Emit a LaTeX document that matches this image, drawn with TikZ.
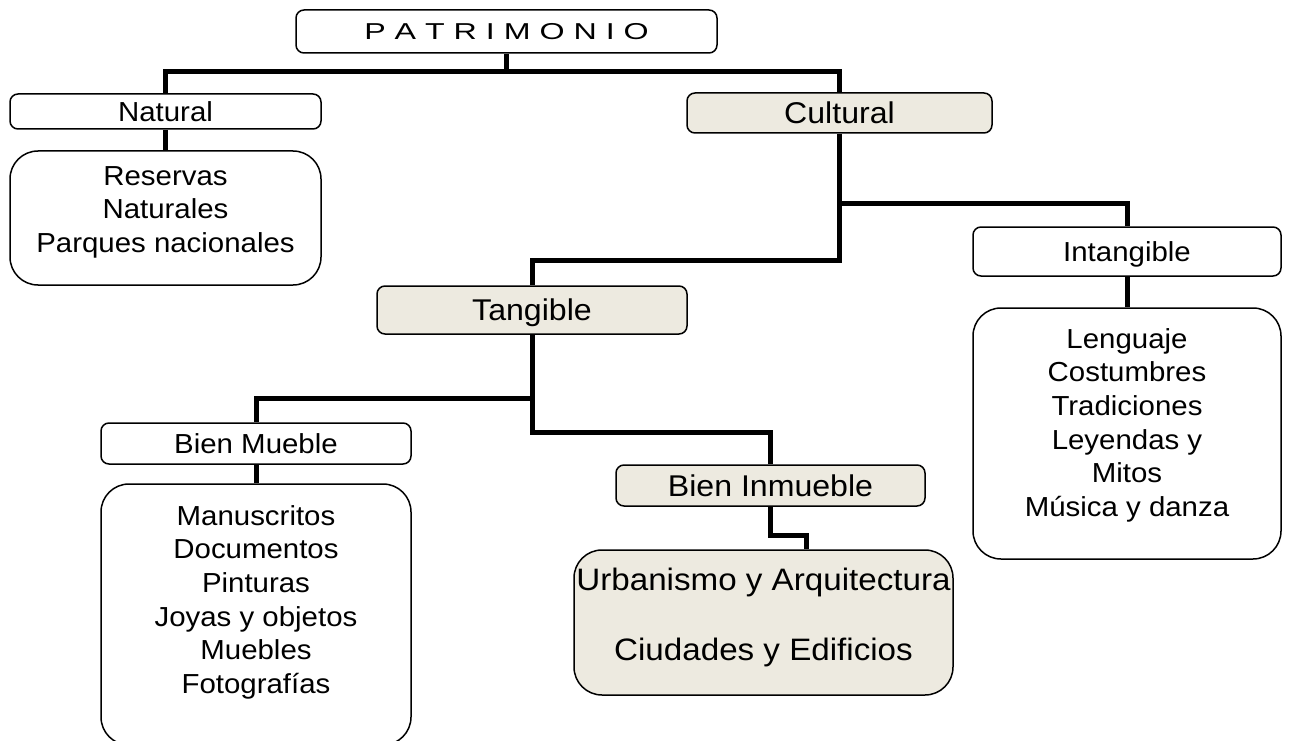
\documentclass[tikz,border=0pt]{standalone}
\usepackage{fontspec}
\setmainfont{Liberation Sans}[FakeStretch=1.07]
\newfontfamily\patfont{Liberation Sans}[FakeStretch=1.4]
\definecolor{beige}{RGB}{237,234,224}
\begin{document}
\begin{tikzpicture}[x=1pt,y=-1pt,
  box/.style={draw=black, line width=1.5pt, rounded corners=8pt, inner sep=0pt, fill=white},
  listbox/.style={box, rounded corners=28pt},
  shaded/.style={fill=beige},
  smfont/.style={font=\fontsize{27.5}{33.7}\selectfont},
  lgfont/.style={font=\fontsize{30}{35}\selectfont},
  urbfont/.style={font=\fontsize{31}{35}\selectfont},
  smsingle/.style={smfont, text height=19.7pt, text depth=0pt},
  lgsingle/.style={lgfont, text height=21.5pt, text depth=0pt},
  conn/.style={line width=5pt, line join=miter}]
\useasboundingbox (0,0) rectangle (1291,741);

% boxes
\node[box, minimum width=421pt, minimum height=43pt, text height=16.5pt, text depth=0pt,
      font=\patfont\fontsize{23}{27}\selectfont] (pat) at (506.5,31.5) {P A T R I M O N I O};
\node[box, smsingle, minimum width=311pt, minimum height=35pt] (nat) at (165.5,111.5) {Natural};
\node[box, shaded, lgsingle, minimum width=305pt, minimum height=40pt] (cul) at (839.5,113) {Cultural};
\node[box, smsingle, minimum width=308pt, minimum height=49pt] (int) at (1127,251.5) {Intangible};
\node[box, shaded, lgsingle, minimum width=310pt, minimum height=48pt] (tan) at (532,310) {Tangible};
\node[box, smsingle, minimum width=310pt, minimum height=41pt] (mue) at (256,443.5) {Bien Mueble};
\node[box, shaded, lgsingle, minimum width=309pt, minimum height=41pt] (inm) at (770.5,485.5) {Bien Inmueble};

\node[listbox, smfont, minimum width=311pt, minimum height=134pt] (natl) at (165.5,218)
  {\parbox[c][134pt][t]{300pt}{\centering\rule{0pt}{34pt}Reservas\\Naturales\\Parques nacionales}};
\node[listbox, smfont, minimum width=308pt, minimum height=251pt] (intl) at (1127,433.5)
  {\parbox[c][251pt][t]{300pt}{\centering\rule{0pt}{40pt}Lenguaje\\Costumbres\\Tradiciones\\Leyendas y\\Mitos\\Música y danza}};
\node[listbox, smfont, minimum width=310pt, minimum height=261pt] (muel) at (256,614.5)
  {\parbox[c][261pt][t]{300pt}{\centering\rule{0pt}{41pt}Manuscritos\\Documentos\\Pinturas\\Joyas y objetos\\Muebles\\Fotografías}};
\node[listbox, shaded, urbfont, minimum width=379pt, minimum height=145pt] (urb) at (763.5,622.5)
  {\parbox[c][145pt][t]{379pt}{\centering\rule{0pt}{40pt}Urbanismo y Arquitectura\\[35pt]Ciudades y Edificios}};

% connectors
\draw[conn] (pat.south) -- ++(0,19);
\draw[conn] (nat.north) -- ++(0,-22) -| (cul.north);
\draw[conn] (nat.south) -- (natl.north);
\draw[conn] (cul.south) -- ++(0,127) -| (tan.north);
\draw[conn] (cul.south) ++(0,70) -| (int.north);
\draw[conn] (int.south) -- (intl.north);
\draw[conn] (tan.south) -- ++(0,98) -| (inm.north);
\draw[conn] (tan.south) ++(0,64) -| (mue.north);
\draw[conn] (mue.south) -- (muel.north);
\draw[conn] (inm.south) -- ++(0,29) -| ([xshift=42.5pt]urb.north);
\end{tikzpicture}
\end{document}
